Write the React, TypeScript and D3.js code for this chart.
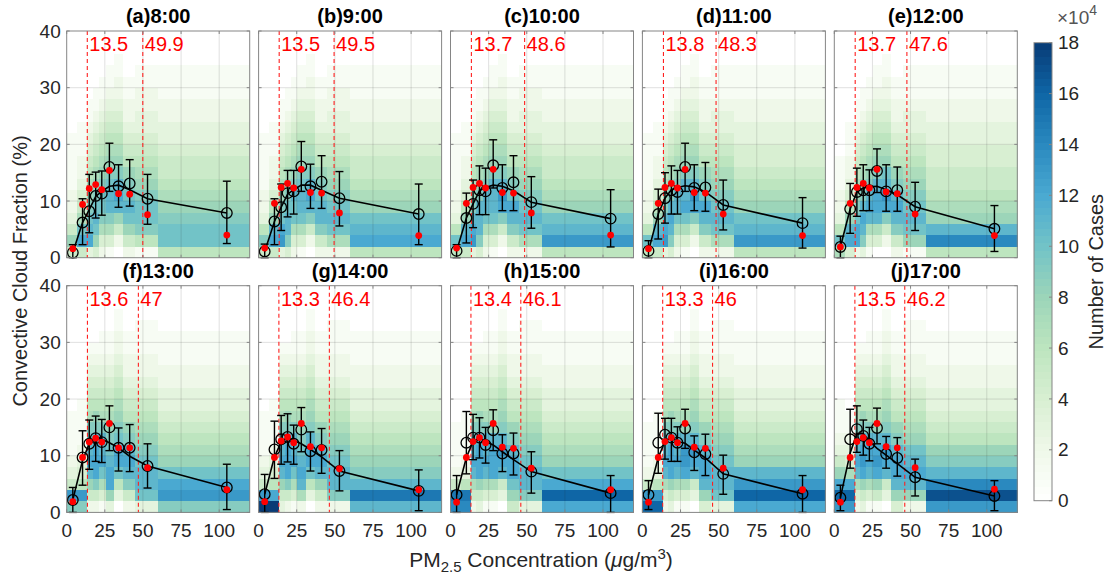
import { useRef, useEffect } from 'react'
import * as d3 from 'd3'

// panel titles and the two PM2.5 thresholds per panel
const panelTitles = ['(a)8:00', '(b)9:00', '(c)10:00', '(d)11:00', '(e)12:00', '(f)13:00', '(g)14:00', '(h)15:00', '(i)16:00', '(j)17:00']
const lowThresholds = [13.5, 13.5, 13.7, 13.8, 13.7, 13.6, 13.3, 13.4, 13.3, 13.5]
const highThresholds = [49.9, 49.5, 48.6, 48.3, 47.6, 47, 46.4, 46.1, 46, 46.2]

// PM2.5 bin means (x of circles) and heatmap column edges
const binMeanPM = [4, 10.4, 14.8, 19, 23, 28, 34, 41.3, 53, 105]
const xEdges = [0, 7, 13.5, 17, 21, 25.5, 31, 37, 45, 60, 120]

// mean convective cloud fraction per bin (black circles)
const meanCCF = [
  [0.9, 6.2, 8.2, 10.9, 11.3, 16.0, 12.6, 13.1, 10.4, 7.9],
  [1.1, 6.4, 8.9, 11.4, 11.7, 16.1, 12.6, 13.4, 10.5, 7.7],
  [1.2, 7.0, 9.5, 11.9, 11.7, 16.3, 12.3, 13.3, 9.8, 6.9],
  [1.2, 7.7, 10.5, 11.9, 11.6, 16.0, 12.3, 12.4, 9.3, 6.1],
  [1.9, 8.6, 11.6, 11.9, 11.9, 15.3, 11.7, 11.9, 9.0, 5.1],
  [2.2, 9.7, 12.1, 13.1, 12.4, 15.0, 11.4, 11.4, 8.2, 4.4],
  [3.2, 11.1, 12.9, 13.3, 12.1, 14.6, 10.8, 11.0, 7.3, 3.8],
  [3.1, 12.3, 13.2, 13.2, 11.9, 14.5, 10.4, 10.4, 7.2, 3.4],
  [3.1, 12.3, 13.7, 13.2, 12.3, 14.8, 10.6, 10.3, 6.8, 3.3],
  [2.6, 12.9, 14.7, 13.5, 12.1, 14.9, 10.3, 9.6, 6.2, 2.9],
]
// error bar upper / lower ends
const errHigh = [
  [2.3, 10.4, 14.7, 15.1, 15.3, 20.2, 16.4, 17.3, 14.7, 13.5],
  [2.4, 10.4, 13.0, 15.4, 15.4, 20.5, 16.5, 18.0, 15.2, 13.0],
  [2.3, 11.4, 13.7, 16.2, 15.8, 20.8, 16.4, 18.0, 14.3, 12.0],
  [3.0, 12.1, 15.0, 16.2, 15.4, 20.2, 16.4, 16.8, 13.7, 10.6],
  [3.8, 13.1, 15.8, 16.4, 15.5, 19.2, 16.4, 16.0, 13.3, 9.2],
  [4.4, 14.4, 16.3, 17.0, 16.4, 18.8, 14.9, 15.5, 12.1, 8.5],
  [6.7, 16.1, 17.1, 17.4, 15.4, 18.5, 14.2, 14.8, 10.9, 7.5],
  [6.5, 17.8, 17.3, 16.7, 15.0, 18.1, 13.7, 14.0, 10.7, 6.5],
  [5.6, 17.5, 16.6, 16.6, 15.1, 18.2, 13.5, 13.8, 10.1, 6.5],
  [4.8, 18.2, 18.8, 16.3, 15.0, 18.4, 13.4, 13.2, 9.4, 5.6],
]
const errLow = [
  [0, 2.3, 4.4, 7.0, 7.5, 11.7, 8.9, 9.1, 5.9, 2.5],
  [0, 2.3, 4.8, 7.2, 7.7, 11.7, 8.7, 8.7, 5.6, 2.3],
  [0, 2.6, 5.3, 7.6, 7.6, 12.3, 8.3, 8.3, 5.2, 1.9],
  [0, 3.3, 6.1, 7.7, 7.7, 11.7, 8.3, 8.2, 4.9, 1.7],
  [0, 4.3, 7.3, 8.3, 8.3, 11.5, 8.2, 8.2, 4.8, 1.1],
  [0, 4.8, 7.6, 9.0, 8.8, 10.9, 7.3, 7.2, 4.3, 0.5],
  [0, 6.0, 8.5, 8.9, 8.5, 10.7, 7.3, 6.9, 3.8, 0.3],
  [0, 6.8, 9.3, 9.6, 8.7, 10.9, 7.2, 6.6, 3.4, 0],
  [0.5, 6.9, 9.4, 9.0, 9.0, 11.3, 7.4, 6.5, 3.2, 0],
  [0.3, 7.8, 10.6, 10.1, 9.1, 12.1, 7.8, 6.4, 2.9, 0.3],
]
// median per bin (red dots)
const medianCCF = [
  [1.6, 9.4, 12.2, 12.9, 12.0, 15.4, 11.3, 11.2, 7.6, 4.0],
  [1.7, 9.6, 12.4, 13.1, 12.3, 15.6, 11.5, 11.4, 7.9, 3.9],
  [1.7, 9.6, 12.4, 13.1, 12.3, 15.6, 11.5, 11.4, 7.9, 4.0],
  [1.6, 9.6, 12.4, 13.1, 12.3, 15.6, 11.5, 11.4, 7.7, 3.9],
  [1.9, 9.6, 12.4, 13.1, 12.3, 15.6, 11.6, 11.3, 7.7, 3.9],
  [1.9, 9.7, 12.4, 13.1, 12.4, 15.7, 11.4, 11.4, 7.9, 4.0],
  [1.9, 9.7, 12.6, 13.3, 12.3, 15.7, 11.6, 11.4, 7.7, 4.0],
  [1.8, 9.7, 12.5, 13.2, 12.3, 15.7, 11.5, 11.3, 7.8, 4.0],
  [1.8, 9.7, 12.5, 13.2, 12.3, 15.7, 11.5, 11.3, 7.8, 4.0],
  [1.8, 9.7, 12.5, 13.2, 12.3, 15.7, 11.6, 11.4, 7.9, 4.1],
]
// smoothed fit line
const fitCCF = [
  [0.9, 6.2, 8.5, 10.8, 11.7, 12.6, 12.8, 12.0, 10.4, 7.9],
  [1.1, 6.4, 8.9, 11.2, 12.0, 12.8, 12.8, 11.9, 10.5, 7.7],
  [1.2, 7.0, 9.5, 11.8, 12.4, 12.8, 12.6, 11.8, 9.8, 6.9],
  [1.2, 7.7, 10.5, 12.0, 12.4, 12.7, 12.5, 11.6, 9.3, 6.1],
  [1.9, 8.6, 11.6, 12.3, 12.5, 12.6, 12.0, 11.1, 9.0, 5.1],
  [2.2, 9.2, 12.1, 13.1, 12.9, 12.3, 11.4, 9.9, 8.2, 4.4],
  [3.2, 9.8, 12.4, 13.3, 12.7, 12.1, 11.1, 9.8, 7.3, 3.8],
  [3.1, 9.7, 12.5, 13.2, 12.5, 11.9, 10.7, 9.3, 7.2, 3.4],
  [3.1, 9.7, 12.5, 13.2, 12.5, 12.2, 11.0, 9.6, 6.8, 3.3],
  [2.6, 10.5, 13.9, 13.9, 12.6, 11.3, 10.1, 8.6, 6.2, 2.9],
]

// number of cases (x10^4), one string per PM2.5 column, one base-19 char per 2% row from the bottom
const heatCounts = [
  ['58532211111000000000', '5ca75432211100000000', '3cba9876543211000000', '48aba987654321100000', '2479aa98765432110000',
    '1479bba9876543211000', '0258bcb9876543221100', '258aba98654322110000', '169aa987654332211000', '6aa98765543322111000'],
  ['59632211111000000000', '5cb86432211100000000', '3dca9876543211000000', '49bba987654321100000', '247aab98765432110000',
    '147abba9876543211000', '0259bcb9876543221100', '259bba98654322110000', '27aba987654332211000', '6cba8765543322111000'],
  ['6a632211111000000000', '5cb86432211100000000', '3dcb9876543211000000', '49bbb987654321100000', '247abb98765432110000',
    '147abbb9876543211000', '0259cdb9876543221100', '259bca98654322110000', '27aba987654332211000', '6dba8765543322111000'],
  ['6a632211111000000000', '5cb86432211100000000', '3dcb9876543211000000', '49bcb987654321100000', '247abb98765432110000',
    '147acbb9876543211000', '0259cdb9876543221100', '259bca98654322110000', '27aba987654332111000', '6dba8765443322111000'],
  ['7a632211100000000000', '4cb86432211100000000', '2cca9876543211000000', '39bcb987654321100000', '147bcb98765432110000',
    '047bccb9876543211000', '0259cdba876543221100', '259bcb98654322110000', '18aba987654332111000', '6eb87655443322111000'],
  ['9d532111100000000000', '9d643211110000000000', '258bcba9765432100000', '259cccb9865432100000', '147acbb9765432110000',
    '38ccba98765432110000', '036acca9876543221100', '259bcb98654322110000', '3abba987654322111000', '9dca8765433221110000'],
  ['id532111100000000000', 'ic643211110000000000', '358bcba9765432100000', '259cccb9865432100000', '147acbb9765432110000',
    '27bcba98765432110000', '036accb9876543221100', '258bcb98654322110000', '29bba987654322111000', 'bfb98765433221110000'],
  ['ef521111000000000000', 'ef632111100000000000', '257bcba9765432100000', '358cccb9865432100000', '147bcbb9765432110000',
    '147cccb8765432110000', '035bcdb9876543221100', '58accb98654322110000', '39bba987654322111000', 'cgca8765433221110000'],
  ['gd521111000000000000', 'gd632111100000000000', '247bcba9765432100000', '358cccb9865432100000', '147bcbb9765432110000',
    '147cddb8765432110000', '035bcdb9876543221100', '48bccb98654322110000', '3abba987654322111000', 'cgdb8765433221110000'],
  ['dgc85321110000000000', 'dgc74321100000000000', '247bcba9765432100000', '358cdcb9865432100000', '147bccb9765432110000',
    '158cdcb8765432110000', '035bcdb9876543221100', '48bccb98654322110000', '28bcba87654322111000', 'dheb9865433221110000'],
]

const xTicks = [0, 25, 50, 75, 100]
const yTicks = [0, 10, 20, 30, 40]
const cbTicks = [0, 2, 4, 6, 8, 10, 12, 14, 16, 18]
const cbColors = ['#ffffff', '#eff8e9', '#d8efd2', '#bde5bf', '#9cd5b9', '#72c3c7', '#4aa9d1', '#2a89bf', '#0f66a6', '#083b76']

export default function App() {
  const svgRef = useRef<SVGSVGElement>(null)

  useEffect(() => {
    if (!svgRef.current) return
    const svg = d3.select(svgRef.current)
    svg.selectAll('*').remove()

    const font = 'Liberation Sans, Arial, Helvetica, sans-serif'
    const colLeft = [66.7, 258.6, 450.5, 642.4, 834.3]
    const rowTop = [31, 285.7]
    const pw = 183
    const ph = 226.7
    const axisColor = '#858585'
    const textColor = '#262626'

    const color = d3.scaleLinear<string>().domain(cbTicks).range(cbColors).clamp(true)
    const x = d3.scaleLinear().domain([0, 120]).range([0, pw])
    const y = d3.scaleLinear().domain([0, 40]).range([ph, 0])

    panelTitles.forEach((title, i) => {
      const col = i % 5
      const row = Math.floor(i / 5)
      const g = svg.append('g').attr('transform', `translate(${colLeft[col]},${rowTop[row]})`)

      // heatmap of case counts
      const cells: { x0: number; x1: number; y0: number; v: number }[] = []
      heatCounts[i].forEach((profile, c) => {
        profile.split('').forEach((ch, r) => {
          cells.push({ x0: xEdges[c], x1: xEdges[c + 1], y0: r * 2, v: parseInt(ch, 19) })
        })
      })
      g.append('g')
        .attr('shape-rendering', 'crispEdges')
        .selectAll('rect')
        .data(cells)
        .enter()
        .append('rect')
        .attr('x', d => x(d.x0))
        .attr('y', d => y(d.y0 + 2))
        .attr('width', d => x(d.x1) - x(d.x0) + 0.3)
        .attr('height', d => y(d.y0) - y(d.y0 + 2) + 0.3)
        .attr('fill', d => color(d.v))

      // grid
      g.selectAll('.gx')
        .data(xTicks.slice(1))
        .enter()
        .append('line')
        .attr('x1', d => x(d)).attr('x2', d => x(d))
        .attr('y1', 0).attr('y2', ph)
        .attr('stroke', '#262626').attr('stroke-opacity', 0.14)
      g.selectAll('.gy')
        .data(yTicks.slice(1, -1))
        .enter()
        .append('line')
        .attr('x1', 0).attr('x2', pw)
        .attr('y1', d => y(d)).attr('y2', d => y(d))
        .attr('stroke', '#262626').attr('stroke-opacity', 0.14)

      // threshold lines and labels
      ;[lowThresholds[i], highThresholds[i]].forEach(t => {
        g.append('line')
          .attr('x1', x(t)).attr('x2', x(t))
          .attr('y1', 0).attr('y2', ph)
          .attr('stroke', '#ff2020').attr('stroke-width', 1.1)
          .attr('stroke-dasharray', '4,3')
        g.append('text')
          .attr('x', x(t) + 2).attr('y', 20)
          .attr('fill', '#ff0000')
          .attr('font-family', font).attr('font-size', 20)
          .text(String(t))
      })

      // fit line
      const line = d3.line<number>()
        .x((_, k) => x(binMeanPM[k]))
        .y(d => y(d))
      g.append('path')
        .datum(fitCCF[i])
        .attr('d', line)
        .attr('fill', 'none')
        .attr('stroke', '#000')
        .attr('stroke-width', 1.6)

      // error bars
      binMeanPM.forEach((pm, k) => {
        const cx = x(pm)
        const eb = g.append('g').attr('stroke', '#000').attr('stroke-width', 1.4)
        eb.append('line').attr('x1', cx).attr('x2', cx).attr('y1', y(errLow[i][k])).attr('y2', y(errHigh[i][k]))
        eb.append('line').attr('x1', cx - 4).attr('x2', cx + 4).attr('y1', y(errLow[i][k])).attr('y2', y(errLow[i][k]))
        eb.append('line').attr('x1', cx - 4).attr('x2', cx + 4).attr('y1', y(errHigh[i][k])).attr('y2', y(errHigh[i][k]))
      })

      // mean circles
      g.selectAll('.mean')
        .data(meanCCF[i])
        .enter()
        .append('circle')
        .attr('cx', (_, k) => x(binMeanPM[k]))
        .attr('cy', d => y(d))
        .attr('r', 5.3)
        .attr('fill', 'none')
        .attr('stroke', '#000')
        .attr('stroke-width', 1.3)

      // median dots
      g.selectAll('.median')
        .data(medianCCF[i])
        .enter()
        .append('circle')
        .attr('cx', (_, k) => x(binMeanPM[k]))
        .attr('cy', d => y(d))
        .attr('r', 3.4)
        .attr('fill', '#ff0000')

      // box and ticks
      g.append('rect')
        .attr('width', pw).attr('height', ph)
        .attr('fill', 'none').attr('stroke', axisColor).attr('stroke-width', 1)
      const tickLen = 3
      xTicks.forEach(t => {
        g.append('line').attr('x1', x(t)).attr('x2', x(t)).attr('y1', ph).attr('y2', ph - tickLen).attr('stroke', axisColor)
        g.append('line').attr('x1', x(t)).attr('x2', x(t)).attr('y1', 0).attr('y2', tickLen).attr('stroke', axisColor)
      })
      yTicks.forEach(t => {
        g.append('line').attr('x1', 0).attr('x2', tickLen).attr('y1', y(t)).attr('y2', y(t)).attr('stroke', axisColor)
        g.append('line').attr('x1', pw).attr('x2', pw - tickLen).attr('y1', y(t)).attr('y2', y(t)).attr('stroke', axisColor)
      })

      if (col === 0) {
        g.selectAll('.ylab')
          .data(yTicks)
          .enter()
          .append('text')
          .attr('x', -6)
          .attr('y', d => y(d))
          .attr('dy', '0.35em')
          .attr('text-anchor', 'end')
          .attr('fill', textColor)
          .attr('font-family', font).attr('font-size', 19)
          .text(d => d)
      }
      if (row === 1) {
        g.selectAll('.xlab')
          .data(xTicks)
          .enter()
          .append('text')
          .attr('x', d => x(d))
          .attr('y', ph + 25)
          .attr('text-anchor', 'middle')
          .attr('fill', textColor)
          .attr('font-family', font).attr('font-size', 19)
          .text(d => d)
      }

      // title
      g.append('text')
        .attr('x', pw / 2).attr('y', -8)
        .attr('text-anchor', 'middle')
        .attr('font-family', font).attr('font-size', 20).attr('font-weight', 'bold')
        .attr('fill', '#000')
        .text(title)
    })

    // axis labels
    svg.append('text')
      .attr('transform', 'translate(27,271) rotate(-90)')
      .attr('text-anchor', 'middle')
      .attr('font-family', font).attr('font-size', 20)
      .attr('fill', textColor)
      .text('Convective Cloud Fraction (%)')

    const xl = svg.append('text')
      .attr('x', 541).attr('y', 567)
      .attr('text-anchor', 'middle')
      .attr('font-family', font).attr('font-size', 21)
      .attr('fill', textColor)
    xl.append('tspan').text('PM')
    xl.append('tspan').attr('font-size', 15).attr('dy', 5).text('2.5')
    xl.append('tspan').attr('dy', -5).text(' Concentration (')
    xl.append('tspan').attr('font-style', 'italic').text('\u03bc')
    xl.append('tspan').text('g/m')
    xl.append('tspan').attr('font-size', 15).attr('dy', -8).text('3')
    xl.append('tspan').attr('dy', 8).text(')')

    // colorbar
    const cbX = 1034
    const cbW = 18
    const cbTop = 42.7
    const cbBottom = 500.7
    const cy = d3.scaleLinear().domain([0, 18]).range([cbBottom, cbTop])
    const bands = d3.range(0, 18, 18 / 64)
    svg.append('g')
      .attr('shape-rendering', 'crispEdges')
      .selectAll('rect')
      .data(bands)
      .enter()
      .append('rect')
      .attr('x', cbX)
      .attr('width', cbW)
      .attr('y', d => cy(d + 18 / 64))
      .attr('height', d => cy(d) - cy(d + 18 / 64) + 0.4)
      .attr('fill', d => color(d + 9 / 64))
    svg.append('rect')
      .attr('x', cbX).attr('y', cbTop).attr('width', cbW).attr('height', cbBottom - cbTop)
      .attr('fill', 'none').attr('stroke', axisColor)
    cbTicks.forEach(t => {
      svg.append('line').attr('x1', cbX + cbW).attr('x2', cbX + cbW - 3).attr('y1', cy(t)).attr('y2', cy(t)).attr('stroke', axisColor)
      svg.append('text')
        .attr('x', cbX + cbW + 6).attr('y', cy(t)).attr('dy', '0.35em')
        .attr('font-family', font).attr('font-size', 19)
        .attr('fill', textColor)
        .text(t)
    })
    const exp = svg.append('text')
      .attr('x', 1057).attr('y', 24)
      .attr('font-family', font).attr('font-size', 19)
      .attr('fill', '#555')
    exp.append('tspan').text('\u00d710')
    exp.append('tspan').attr('font-size', 14).attr('dy', -9).text('4')

    svg.append('text')
      .attr('transform', `translate(1103,${(cbTop + cbBottom) / 2}) rotate(-90)`)
      .attr('text-anchor', 'middle')
      .attr('font-family', font).attr('font-size', 20)
      .attr('fill', textColor)
      .text('Number of Cases')
  }, [])

  return (
    <svg
      ref={svgRef}
      width={1109}
      height={581}
      style={{ position: 'absolute', left: 0, top: 0, background: '#fff' }}
    />
  )
}
